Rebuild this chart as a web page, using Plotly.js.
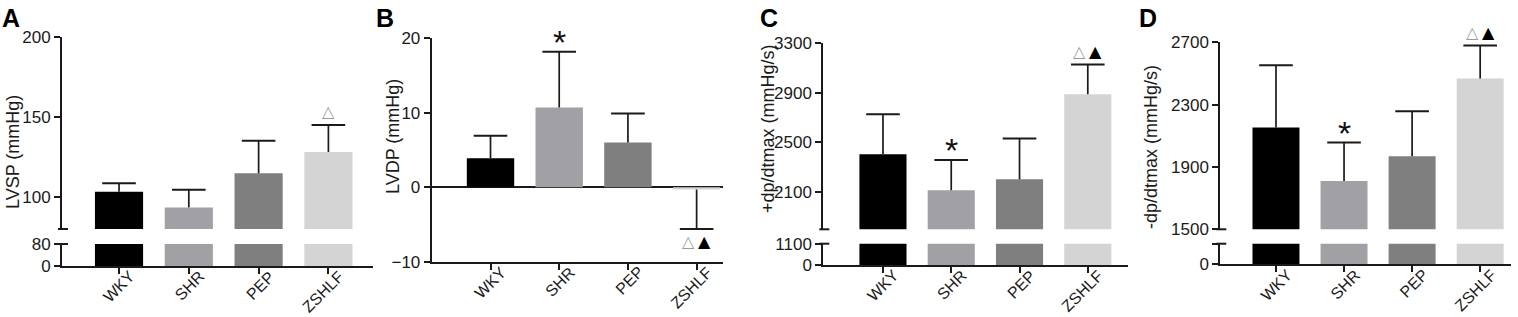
<!DOCTYPE html>
<html>
<head>
<meta charset="utf-8">
<script src="https://cdn.plot.ly/plotly-3.0.1.min.js"></script>
<style>
html,body{margin:0;padding:0;background:#fff;}
#chart{width:1518px;height:317px;}
</style>
</head>
<body>
<div id="chart"></div>
<script>
// ---------- data ----------
const categories = ['WKY', 'SHR', 'PEP', 'ZSHLF'];
const barColors = ['#000000', '#a0a0a5', '#7f7f7f', '#d4d4d4'];

const lvspMean = [103.3, 93.5, 114.8, 128.1];
const lvspErr  = [5.3, 11.1, 20.4, 16.9];
const lvspSig  = ['', '', '', '△'];

const lvdpMean = [3.9, 10.7, 6.0, -0.3];
const lvdpErr  = [3.0, 7.5, 3.9, 5.3];
const lvdpSig  = ['', '*', '', '△▲'];

const dpPlusMean = [2405, 2114, 2202, 2888];
const dpPlusErr  = [322, 243, 330, 239];
const dpPlusSig  = ['', '*', '', '△▲'];

const dpMinusMean = [2153, 1810, 1969, 2468];
const dpMinusErr  = [400, 247, 289, 212];
const dpMinusSig  = ['', '*', '', '△▲'];

// tick labels
const ticksA_upper = [100, 150, 200];
const ticksA_lower = [0, 80];
const ticksB = [-10, 0, 10, 20];
const ticksC_upper = [2100, 2500, 2900, 3300];
const ticksC_lower = [0, 1100];
const ticksD_upper = [1500, 1900, 2300, 2700];
const ticksD_lower = [0, 1000];
const ticksD_lowerText = ['0', ''];

// ---------- layout helpers ----------
const W = 1518, H = 317;
const px = v => v / W;
const py = v => 1 - v / H;
const FONT = 'Liberation Sans, Arial, sans-serif';
const INK = '#1a1a1a';

const panels = [
  {letter:'A', letterX:0, mean:lvspMean, err:lvspErr, sig:lvspSig, title:'LVSP (mmHg)', titleX:13, titleY:152,
   axisX:62, xEnd:373, xRange:[-0.817, 3.639],
   upper:{dom:[37,229], range:[80,200], tickvals:ticksA_upper},
   lower:{dom:[244,266], range:[0,80], tickvals:ticksA_lower}},
  {letter:'B', letterX:374, mean:lvdpMean, err:lvdpErr, sig:lvdpSig, title:'LVDP (mmHg)', titleX:393, titleY:137,
   axisX:431.7, xEnd:723, xRange:[-0.856, 3.384],
   upper:{dom:[38.3,261.7], range:[-10,20], tickvals:ticksB}, lower:null},
  {letter:'C', letterX:758, mean:dpPlusMean, err:dpPlusErr, sig:dpPlusSig, title:'+dp/dtmax (mmHg/s)', titleX:768, titleY:129,
   axisX:823.3, xEnd:1128, xRange:[-0.874, 3.589],
   upper:{dom:[43,229.3], range:[1800,3300], tickvals:ticksC_upper},
   lower:{dom:[243.7,265], range:[0,1100], tickvals:ticksC_lower}},
  {letter:'D', letterX:1137, mean:dpMinusMean, err:dpMinusErr, sig:dpMinusSig, title:'-dp/dtmax (mmHg/s)', titleX:1151, titleY:147,
   axisX:1220.3, xEnd:1511, xRange:[-0.818, 3.453],
   upper:{dom:[42.3,229.3], range:[1500,2700], tickvals:ticksD_upper},
   lower:{dom:[243.7,264.3], range:[0,1000], tickvals:ticksD_lower, ticktext:ticksD_lowerText}}
];

const traces = [];
const layout = {
  width: W, height: H,
  margin: {l:0, r:0, t:0, b:0},
  paper_bgcolor: '#fff', plot_bgcolor: 'rgba(0,0,0,0)',
  showlegend: false,
  font: {family: FONT, size: 17, color: INK},
  annotations: [], shapes: []
};

const idx = categories.map((c, i) => i);
const BARW = 0.69;
let yCount = 0;

function yAxisBase(dom, range, tickvals, ticktext, anchor) {
  const ax = {
    domain: [py(dom[1]), py(dom[0])], range: range, anchor: anchor,
    showline: true, linecolor: INK, linewidth: 2,
    ticks: 'outside', ticklen: 6, tickwidth: 2, tickcolor: INK,
    tickvals: tickvals, showgrid: false, zeroline: false,
    tickfont: {family: FONT, size: 17, color: INK}, fixedrange: true
  };
  if (ticktext) ax.ticktext = ticktext;
  return ax;
}

panels.forEach((p, k) => {
  const xName = k === 0 ? 'x' : 'x' + (k + 1);
  const xKey = k === 0 ? 'xaxis' : 'xaxis' + (k + 1);
  yCount++;
  const yUp = yCount === 1 ? 'y' : 'y' + yCount;
  const yUpKey = yCount === 1 ? 'yaxis' : 'yaxis' + yCount;
  let yLow = null, yLowKey = null;
  if (p.lower) {
    yCount++;
    yLow = 'y' + yCount; yLowKey = 'yaxis' + yCount;
  }
  const bottomAxis = yLow || yUp;
  const axisBottomPx = p.lower ? p.lower.dom[1] : p.upper.dom[1];

  layout[xKey] = {
    domain: [px(p.axisX), px(p.xEnd)], range: p.xRange, anchor: bottomAxis,
    showline: true, linecolor: INK, linewidth: 2,
    ticks: 'outside', ticklen: 6, tickwidth: 2, tickcolor: INK,
    tickvals: idx, showticklabels: false,
    showgrid: false, zeroline: false, fixedrange: true
  };
  layout[yUpKey] = yAxisBase(p.upper.dom, p.upper.range, p.upper.tickvals, p.upper.ticktext, xName);
  if (!p.lower) {
    layout[yUpKey].zeroline = true;
    layout[yUpKey].zerolinecolor = INK;
    layout[yUpKey].zerolinewidth = 2;
  }
  if (p.lower) {
    layout[yLowKey] = yAxisBase(p.lower.dom, p.lower.range, p.lower.tickvals, p.lower.ticktext, xName);
  }

  const up = p.mean.map((m, i) => m >= 0 ? p.err[i] : 0);
  const down = p.mean.map((m, i) => m >= 0 ? 0 : p.err[i]);
  const caps = p.mean.map((m, i) => m >= 0 ? m + p.err[i] : m - p.err[i]);

  traces.push({
    type: 'bar', x: idx, y: p.mean, width: BARW, xaxis: xName, yaxis: yUp,
    marker: {color: barColors, line: {width: 0}}, hoverinfo: 'skip',
    error_y: {type: 'data', symmetric: false, array: up, arrayminus: down,
              width: 0, thickness: 1.7, color: INK}
  });
  traces.push({
    type: 'scatter', mode: 'markers', x: idx, y: caps, xaxis: xName, yaxis: yUp,
    marker: {symbol: 'line-ew', size: 24, line: {width: 2, color: INK}}, hoverinfo: 'skip', cliponaxis: false
  });
  if (p.lower) {
    traces.push({
      type: 'bar', x: idx, y: p.mean, width: BARW, xaxis: xName, yaxis: yLow,
      marker: {color: barColors, line: {width: 0}}, hoverinfo: 'skip'
    });
    // break caps
    [p.upper.dom[1], p.lower.dom[0]].forEach(yy => {
      layout.shapes.push({type: 'line', xref: 'paper', yref: 'paper',
        x0: px(p.axisX - 4), x1: px(p.axisX + 6), y0: py(yy), y1: py(yy),
        line: {color: INK, width: 2}});
    });
  }

  // category labels (rotated)
  categories.forEach((c, i) => {
    layout.annotations.push({
      xref: xName, yref: 'paper', x: i, y: py(axisBottomPx - 1), text: c, showarrow: false,
      textangle: -45, xanchor: 'right', yanchor: 'top', xshift: 22,
      font: {family: FONT, size: 16, color: INK}
    });
  });

  // significance marks
  p.sig.forEach((s, i) => {
    if (!s) return;
    const dir = p.mean[i] >= 0 ? 1 : -1;
    const marks = Array.from(s);
    marks.forEach((ch, j) => {
      const xs = marks.length > 1 ? (j === 0 ? -8 : 8) : 0;
      const isStar = ch === '*';
      layout.annotations.push({
        xref: xName, yref: yUp, x: i, y: caps[i], text: ch, showarrow: false,
        xanchor: 'center', yanchor: 'middle', xshift: xs,
        yshift: isStar ? dir * 13 - 3 : dir * 13,
        font: isStar ? {family: FONT, size: 34, color: '#111'}
                     : {family: 'DejaVu Sans', size: 16, color: ch === '△' ? '#9a9a9a' : '#000'}
      });
    });
  });

  // panel letter
  layout.annotations.push({xref: 'paper', yref: 'paper', x: px(p.letterX), y: py(2),
    xanchor: 'left', yanchor: 'top', text: '<b>' + p.letter + '</b>', showarrow: false,
    font: {family: FONT, size: 25, color: '#000'}});
  // axis title
  layout.annotations.push({xref: 'paper', yref: 'paper', x: px(p.titleX), y: py(p.titleY),
    xanchor: 'center', yanchor: 'middle', text: p.title, textangle: -90, showarrow: false,
    font: {family: FONT, size: 18, color: INK}});
});

Plotly.newPlot('chart', traces, layout, {staticPlot: true, displayModeBar: false});
</script>
</body>
</html>
